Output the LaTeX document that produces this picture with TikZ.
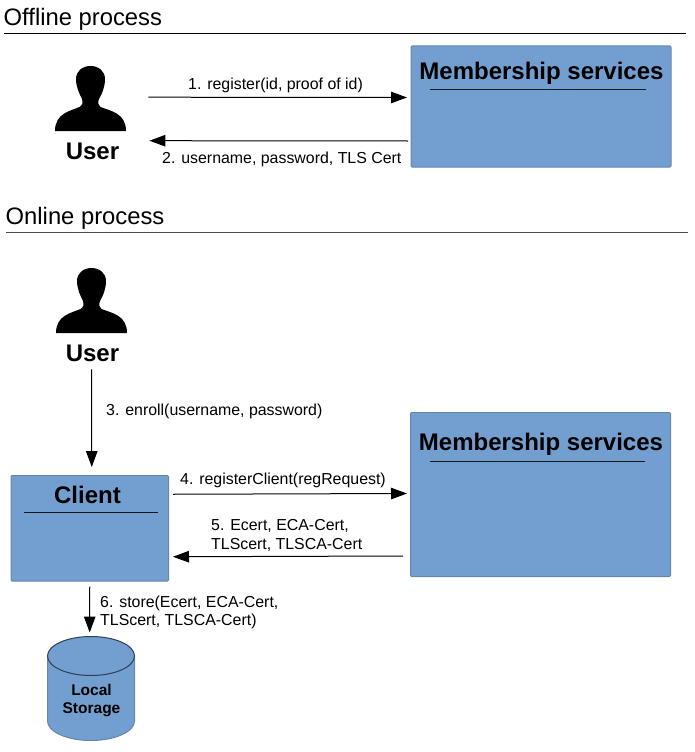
\documentclass[tikz,border=0pt]{standalone}
\usepackage{fontspec}
\setmainfont{Liberation Sans}
\usetikzlibrary{arrows.meta}
\definecolor{boxfill}{HTML}{729FCF}
\definecolor{boxedge}{HTML}{6487B0}
\tikzset{
  x=1pt, y=-1pt,
  arr/.style={draw=black, line width=1pt, -{Triangle[length=16pt,width=11.5pt]}},
  titletext/.style={anchor=base west, inner sep=0pt, font=\fontsize{23.8}{26}\selectfont},
  label/.style={anchor=base west, inner sep=0pt, font=\fontsize{15.9}{18}\selectfont},
  bigbold/.style={anchor=base, inner sep=0pt, font=\bfseries\fontsize{24}{26}\selectfont},
  smallbold/.style={anchor=base, inner sep=0pt, font=\bfseries\fontsize{15.5}{18}\selectfont},
  bluebox/.style={draw=boxedge, fill=boxfill, line width=1pt, rounded corners=1pt, inner sep=0pt, anchor=north west},
  rulea/.style={draw=black, line width=1pt},
  divider/.style={draw=black!85!boxfill, line width=1pt},
  area/.style={inner sep=0pt, anchor=north west},
  person/.pic={
    \fill[black] (0,0) .. controls (-8,0) and (-14.5,5) .. (-14.5,13)
      .. controls (-14.5,21) and (-11,28) .. (-8.5,33)
      .. controls (-7.5,37) and (-8,39) .. (-11,41)
      .. controls (-20,45) and (-35.5,47) .. (-35.5,65)
      -- (35.5,65)
      .. controls (35.5,47) and (20,45) .. (10,41)
      .. controls (7.5,39) and (7,37) .. (8.5,33)
      .. controls (11.5,28) and (14.5,21) .. (14.5,13)
      .. controls (14.5,5) and (8,0) .. (0,0) -- cycle;
  }
}
\begin{document}
\begin{tikzpicture}
\useasboundingbox (0,0) rectangle (694,752);

% section titles and rules
\node[titletext] (t1) at (3.5,26) {Offline process};
\coordinate (r1a) at (4,33.5);
\coordinate (r1b) at (686,33.5);
\draw[rulea] (r1a) -- (r1b);
\node[titletext] (t2) at (5.5,224) {Online process};
\coordinate (r2a) at (6,232);
\coordinate (r2b) at (688,232);
\draw[rulea, draw=black!70] (r2a) -- (r2b);

% offline
\pic at (90.5,66) {person};
\node[area, minimum width=71pt, minimum height=100pt] (user1) at (55,66) {};
\node[bigbold] (user1t) at (92.5,159) {User};
\node[bluebox, minimum width=260pt, minimum height=121pt] (mem1) at (410.5,45.5) {};
\node[bigbold] (mem1t) at (541.5,79) {Membership services};
\coordinate (d1a) at (430,89.5);
\coordinate (d1b) at (646,89.5);
\draw[divider] (d1a) -- (d1b);

\draw[arr] ([shift={(22,-19)}]user1.east) -- ([shift={(-3.5,-9)}]mem1.west);
\draw[arr] ([shift={(-2.5,34.5)}]mem1.west) -- ([shift={(23,24.5)}]user1.east);
\node[label] (l1) at (188,89) {1. register(id, proof of id)};
\node[label] (l2) at (162,163) {2. username, password, TLS Cert};

% online
\pic at (91.5,268) {person};
\node[area, minimum width=71pt, minimum height=96pt] (user2) at (56,268) {};
\node[bigbold] (user2t) at (92.5,361) {User};
\node[bluebox, minimum width=157.5pt, minimum height=105.5pt] (client) at (10.5,475) {};
\node[bigbold] (clientt) at (87.5,503) {Client};
\coordinate (d3a) at (24,512);
\coordinate (d3b) at (158,512);
\draw[divider] (d3a) -- (d3b);
\node[bluebox, minimum width=260pt, minimum height=164pt] (mem2) at (410,412) {};
\node[bigbold] (mem2t) at (541,450) {Membership services};
\coordinate (d2a) at (430,461.5);
\coordinate (d2b) at (645,461.5);
\draw[divider] (d2a) -- (d2b);

% local storage
\fill[boxfill] (47.5,656) -- (47.5,721) arc[start angle=180, end angle=360, x radius=43.5, y radius=-19.5] -- (134.5,656) arc[start angle=0, end angle=180, x radius=43.5, y radius=-19.5] -- cycle;
\draw[boxedge, line width=1pt] (47.5,656) -- (47.5,721) arc[start angle=180, end angle=360, x radius=43.5, y radius=-19.5] -- (134.5,656);
\draw[black!60!boxfill, line width=1pt] (91,656) ellipse[x radius=43.5, y radius=19.5];
\node[area, minimum width=87pt, minimum height=104pt] (store) at (47,636.5) {};
\node[smallbold] (st1) at (91.5,695) {Local};
\node[smallbold] (st2) at (91.5,713.5) {Storage};

\draw[arr] ([yshift=-5]user2.south) -- ([xshift=2,yshift=8]client.north);
\draw[arr] ([yshift=-5]client.south) -- ([xshift=-1,yshift=4]store.north);
\draw[arr] ([shift={(4,-34)}]client.east) -- ([shift={(-3,-0.5)}]mem2.west |- 0,494);
\draw[arr] ([shift={(-7,0)}]mem2.west |- 0,556) -- ([shift={(4,28.5)}]client.east);

\node[label] (l3) at (106,415) {3. enroll(username, password)};
\node[label] (l4) at (180,484) {4. registerClient(regRequest)};
\node[label] (l5a) at (211,530) {5. Ecert, ECA-Cert,};
\node[label] (l5b) at (211,549) {TLScert, TLSCA-Cert};
\node[label] (l6a) at (100,607) {6. store(Ecert, ECA-Cert,};
\node[label] (l6b) at (100,625) {TLScert, TLSCA-Cert)};
\end{tikzpicture}
\end{document}
